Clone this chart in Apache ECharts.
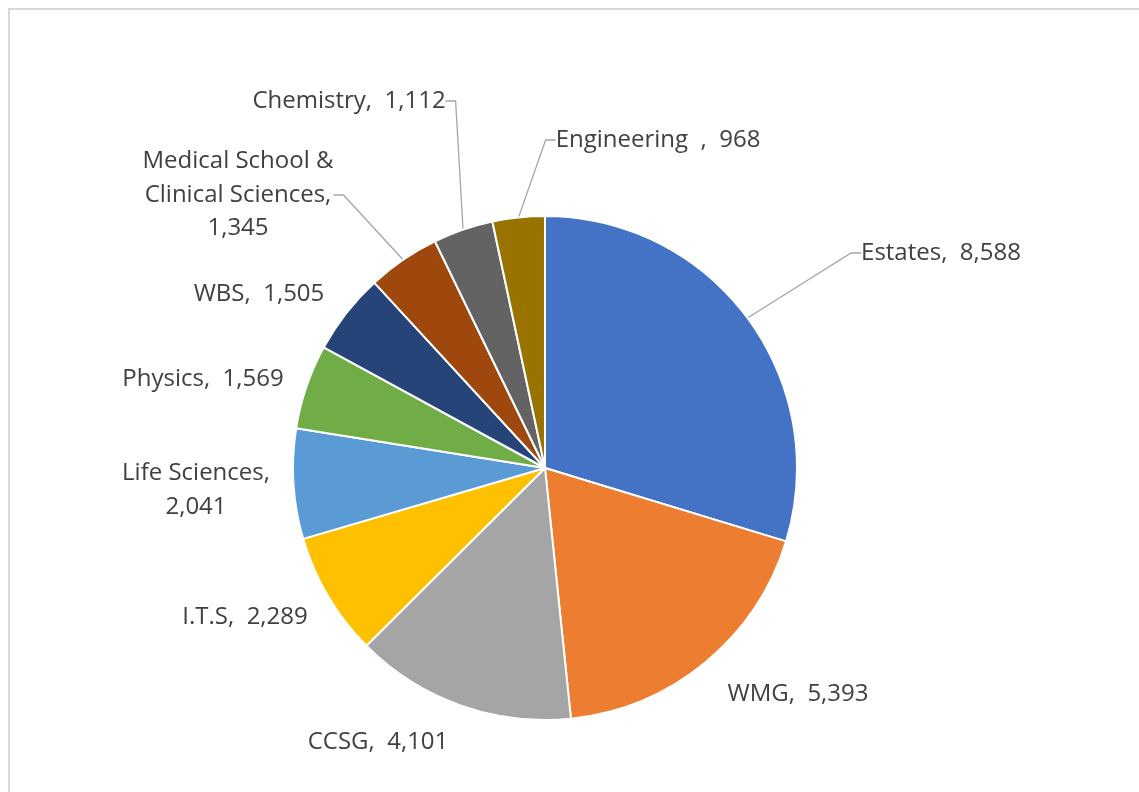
<!DOCTYPE html>
<html>
<head>
<meta charset="utf-8">
<title>Departments</title>
<script src="https://cdn.jsdelivr.net/npm/echarts@6/dist/echarts.min.js"></script>
<style>
  html, body { margin: 0; padding: 0; background: #ffffff; }
  #chart { width: 1139px; height: 792px; }
</style>
</head>
<body>
<div id="chart"></div>
<script>
// Departments, clockwise from twelve o'clock
const departments = [
  'Estates', 'WMG', 'CCSG', 'I.T.S', 'Life Sciences', 'Physics', 'WBS',
  'Medical School & Clinical Sciences', 'Chemistry', 'Engineering  '
];
const counts = [8588, 5393, 4101, 2289, 2041, 1569, 1505, 1345, 1112, 968];
const sliceColors = [
  '#4472C4', '#ED7D31', '#A5A5A5', '#FFC000', '#5B9BD5',
  '#70AD47', '#264478', '#9E480E', '#636363', '#997300'
];

// Label placement around the pie (label centre, whether it is stacked, leader line)
const labelSpots = {
  'Estates': { at: [941, 253], leader: true },
  'WMG': { at: [798, 694] },
  'CCSG': { at: [378, 742] },
  'I.T.S': { at: [245, 617] },
  'Life Sciences': { at: [196, 490], stack: true },
  'Physics': { at: [203, 379] },
  'WBS': { at: [259, 294] },
  'Medical School & Clinical Sciences': { at: [238, 195], stack: true, leader: true },
  'Chemistry': { at: [349, 101], leader: true },
  'Engineering  ': { at: [658, 140], leader: true }
};

const fmt = v => v.toLocaleString('en-US');

const pieData = departments.map((name, i) => ({
  name: name,
  value: counts[i],
  itemStyle: { color: sliceColors[i] },
  labelLine: { show: !!labelSpots[name].leader }
}));

const chart = echarts.init(document.getElementById('chart'), null, { renderer: 'canvas' });

chart.setOption({
  backgroundColor: '#ffffff',
  animation: false,
  graphic: [{
    type: 'rect',
    silent: true,
    shape: { x: 9, y: 9, width: 1160, height: 820 },
    style: { fill: 'none', stroke: '#d9d9d9', lineWidth: 2 }
  }],
  series: [{
    type: 'pie',
    center: [545, 468],
    radius: 252,
    startAngle: 90,
    clockwise: true,
    avoidLabelOverlap: false,
    data: pieData,
    itemStyle: { borderColor: '#ffffff', borderWidth: 2 },
    label: {
      show: true,
      position: 'outside',
      fontFamily: 'Open Sans',
      fontSize: 24,
      lineHeight: 33.5,
      color: '#404040',
      align: 'center',
      formatter: p => {
        const spot = labelSpots[p.name];
        if (spot.stack) {
          return p.name.replace('& ', '&\n') + ',\n' + fmt(p.value);
        }
        return p.name + ',  ' + fmt(p.value);
      }
    },
    labelLine: {
      show: true,
      length: 20,
      length2: 10,
      smooth: false,
      lineStyle: { color: '#a6a6a6', width: 1.3 }
    },
    labelLayout: params => {
      const spot = labelSpots[departments[params.dataIndex]];
      return {
        x: spot.at[0],
        y: spot.at[1],
        align: 'center',
        verticalAlign: 'middle'
      };
    },
    emphasis: { disabled: true }
  }]
});
</script>
</body>
</html>
